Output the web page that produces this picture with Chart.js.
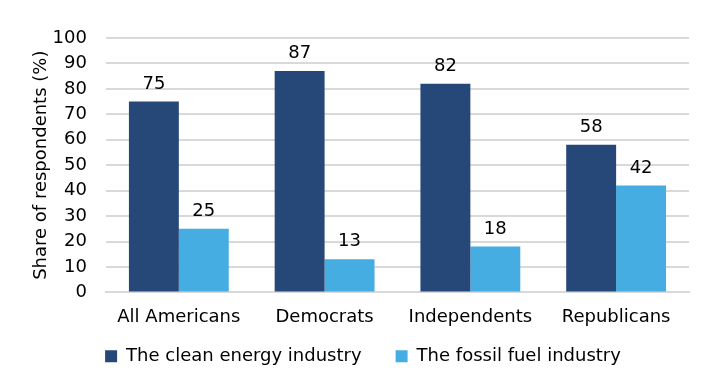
<!DOCTYPE html>
<html><head><meta charset="utf-8">
<script src="https://cdn.jsdelivr.net/npm/chart.js@4/dist/chart.umd.min.js"></script>
<style>html,body{margin:0;padding:0;background:#fff}#wrap{width:706px;height:382px}</style>
</head><body><div id="wrap"><canvas id="c" width="706" height="382"></canvas></div>
<script>
const categories = ["All Americans", "Democrats", "Independents", "Republicans"];
const cleanEnergy = [75, 87, 82, 58];
const fossilFuel = [25, 13, 18, 42];
const seriesNames = ["The clean energy industry", "The fossil fuel industry"];
const yTicks = [0,10,20,30,40,50,60,70,80,90,100];
const FONT = "'DejaVu Sans', Verdana, sans-serif";

const LEGEND_PAD = 34;     // horizontal gap between legend items
const LEGEND_HEIGHT = 40;  // space reserved for the legend row
const LEGEND_TEXT_Y = 358; // vertical centre of the legend row
const LEGEND_SHIFT_X = 5;

const labelPlugin = {
  id: 'vlabels',
  afterDatasetsDraw(chart) {
    const ctx = chart.ctx;
    ctx.save();
    ctx.font = "18px " + FONT;
    ctx.fillStyle = "#000";
    ctx.textAlign = "center";
    ctx.textBaseline = "alphabetic";
    chart.data.datasets.forEach((ds, i) => {
      chart.getDatasetMeta(i).data.forEach((bar, j) => {
        ctx.fillText(String(ds.data[j]), bar.x, bar.y - 13);
      });
    });
    ctx.restore();
  }
};

const legendFix = {
  id: 'legendFix',
  beforeLayout(chart) {
    const lg = chart.legend;
    if (lg && !lg._fixed) {
      const f = lg.fit;
      lg.fit = function () { f.call(this); this.height = LEGEND_HEIGHT; };
      lg._fixed = true;
    }
  },
  afterLayout(chart) {
    const lg = chart.legend;
    if (!lg) return;
    const itemH = 18 * 1.2;
    lg.top = LEGEND_TEXT_Y - LEGEND_PAD - itemH / 2;
    lg.bottom = chart.height;
    lg.height = lg.bottom - lg.top;
    lg.left += LEGEND_SHIFT_X;
    lg.right += LEGEND_SHIFT_X;
  }
};

new Chart(document.getElementById('c'), {
  type: 'bar',
  data: {
    labels: categories,
    datasets: [
      { label: seriesNames[0], data: cleanEnergy, backgroundColor: '#264878' },
      { label: seriesNames[1], data: fossilFuel, backgroundColor: '#45ADE2' }
    ]
  },
  options: {
    responsive: false,
    animation: false,
    devicePixelRatio: 1,
    layout: { padding: { left: 27, right: 17, top: 38, bottom: 0 } },
    datasets: { bar: { categoryPercentage: 0.685, barPercentage: 1.0 } },
    scales: {
      x: {
        grid: { display: false, drawTicks: false },
        border: { display: true, color: '#D9D9D9', width: 2 },
        ticks: { color: '#000', font: { family: FONT, size: 18 }, padding: 14, autoSkip: false, maxRotation: 0 }
      },
      y: {
        min: 0, max: 100,
        afterBuildTicks(axis) { axis.ticks = yTicks.map(v => ({ value: v })); },
        afterFit(axis) { axis.width -= 20; },
        grid: { color: '#D9D9D9', lineWidth: 2, drawTicks: false },
        border: { display: false },
        ticks: { color: '#000', font: { family: FONT, size: 18 }, padding: 19, autoSkip: false },
        title: { display: true, text: 'Share of respondents (%)', color: '#000', font: { family: FONT, size: 18 }, padding: { top: 4, bottom: 1 } }
      }
    },
    plugins: {
      legend: {
        position: 'bottom',
        labels: { color: '#000', font: { family: FONT, size: 18 }, boxWidth: 12, boxHeight: 12, padding: LEGEND_PAD }
      },
      tooltip: { enabled: false }
    }
  },
  plugins: [labelPlugin, legendFix]
});
</script></body></html>
